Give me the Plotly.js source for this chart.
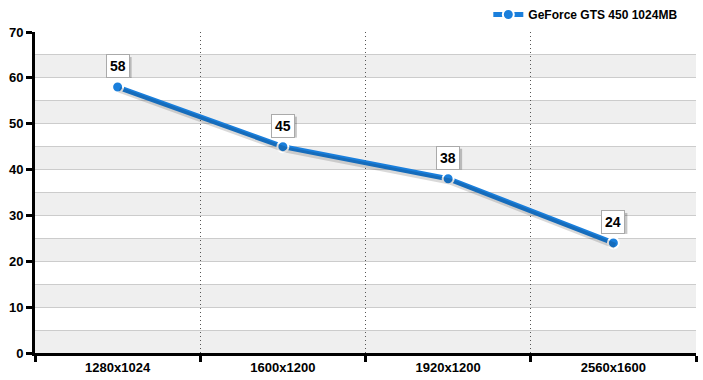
<!DOCTYPE html>
<html><head><meta charset="utf-8">
<script src="https://cdn.plot.ly/plotly-3.0.1.min.js"></script>
<style>body{margin:0;background:#fff}#c{width:703px;height:380px}</style>
</head><body><div id="c"></div>
<script>
const categories = ['1280x1024','1600x1200','1920x1200','2560x1600'];
const values = [58,45,38,24];
const seriesName = 'GeForce GTS 450 1024MB';
const yTicks = [0,10,20,30,40,50,60,70];

const blue = '#1a7fdc';
const shapes = [];
for (let b = 0; b < 70; b += 10) {
  shapes.push({type:'rect', xref:'paper', yref:'y', x0:0, x1:1, y0:b, y1:b+5,
    fillcolor:'#efefef', line:{width:0}, layer:'below'});
}
const annotations = [];
categories.forEach((c,i)=>{
  // soft shadow under each value label
  shapes.push({type:'rect', xref:'x', yref:'y', xsizemode:'pixel', ysizemode:'pixel',
    xanchor:c, yanchor:values[i], x0:-8, x1:14, y0:9, y1:30,
    fillcolor:'rgba(0,0,0,0.22)', line:{width:0}, layer:'above'});
  annotations.push({
    x:c, y:values[i], text:'<b>'+values[i]+'</b>', showarrow:false, yshift:21,
    bgcolor:'#ffffff', bordercolor:'#aaaaaa', borderwidth:1, borderpad:3,
    font:{family:'Liberation Sans, Arial', size:14, color:'#000'}
  });
});

const traces = [
  {x:categories, y:values, type:'scatter', mode:'lines', xaxis:'x2', yaxis:'y2',
   line:{color:'rgba(0,0,0,0.15)', width:6}, showlegend:false, hoverinfo:'skip'},
  {x:categories, y:values, type:'scatter', mode:'lines+markers', name:seriesName,
   line:{color:blue, width:5},
   marker:{size:11, color:blue, line:{color:'#fff', width:2}}}
];

const layout = {
  width:703, height:380,
  margin:{l:35, r:7, t:32, b:27, autoexpand:false},
  paper_bgcolor:'#fff', plot_bgcolor:'#fff',
  font:{family:'Liberation Sans, Arial', size:12, color:'#000'},
  showlegend:true,
  legend:{xref:'container', yref:'container', x:0.972, xanchor:'right', y:1, yanchor:'top', orientation:'h',
    font:{family:'Liberation Sans, Arial', size:12, color:'#000', weight:'bold'}, bgcolor:'rgba(0,0,0,0)'},
  xaxis:{type:'category', range:[-0.5,3.5], tickson:'boundaries', showgrid:true,
    gridcolor:'#555', griddash:'1px,3px', gridwidth:1,
    ticks:'outside', ticklen:6, tickwidth:3, tickcolor:'#000',
    showline:true, linecolor:'#000', linewidth:3, zeroline:false,
    tickfont:{family:'Liberation Sans, Arial', size:13, weight:'bold'}, fixedrange:true},
  yaxis:{range:[0,70], tickvals:yTicks, showgrid:true, gridcolor:'#cccccc', gridwidth:1,
    minor:{dtick:5, showgrid:true, gridcolor:'#cccccc', gridwidth:1},
    ticks:'outside', ticklen:6, tickwidth:3, tickcolor:'#000',
    showline:true, linecolor:'#000', linewidth:3, zeroline:false,
    tickfont:{family:'Liberation Sans, Arial', size:13, weight:'bold'}, fixedrange:true},
  xaxis2:{type:'category', range:[-0.51,3.49], overlaying:'x', visible:false, fixedrange:true},
  yaxis2:{range:[0.6,70.6], overlaying:'y', visible:false, fixedrange:true},
  shapes:shapes,
  annotations:annotations
};
Plotly.newPlot('c', traces, layout, {displayModeBar:false, staticPlot:true});
</script></body></html>
